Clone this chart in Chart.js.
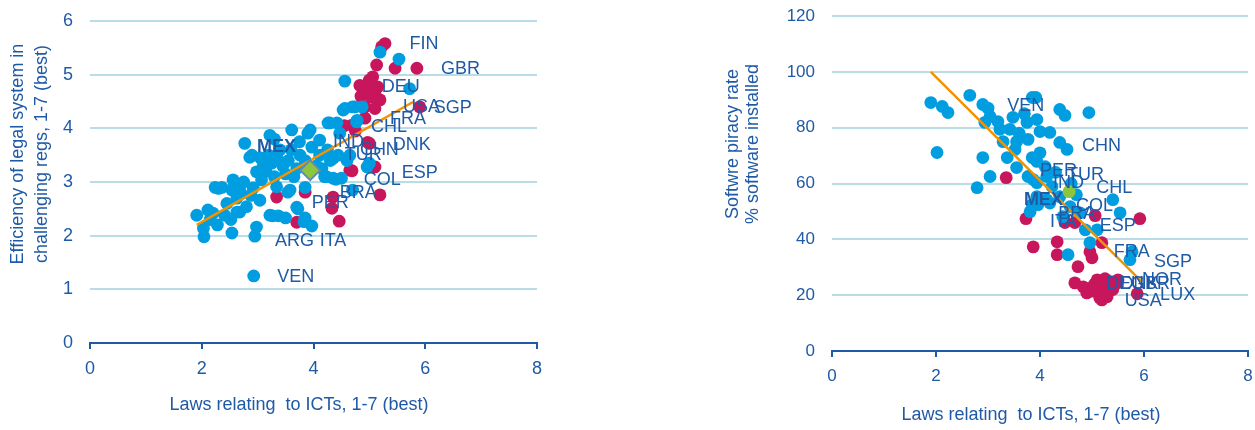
<!DOCTYPE html>
<html>
<head>
<meta charset="utf-8">
<script src="https://cdn.jsdelivr.net/npm/chart.js@4.4.0/dist/chart.umd.min.js"></script>
<style>
  body { margin: 0; background: #fff; }
  .panel { position: absolute; top: 0; height: 430px; }
  #legalPanel { left: 0; width: 560px; }
  #piracyPanel { left: 690px; width: 565px; }
</style>
</head>
<body>
<div class="panel" id="legalPanel"><canvas id="legalChart"></canvas></div>
<div class="panel" id="piracyPanel"><canvas id="piracyChart"></canvas></div>
<script>
// Laws relating to ICTs (x) vs efficiency of legal system (y)
const legalOther = [
    [1.91, 2.38], [2.03, 2.14], [2.04, 1.98], [2.11, 2.48], [2.2, 2.42], [2.28, 2.2], [2.41, 2.38],
    [2.54, 2.05], [2.63, 2.44], [2.24, 2.9], [2.36, 2.9], [2.3, 2.88], [2.56, 3.04], [2.54, 2.85],
    [2.77, 3.72], [2.9, 3.5], [2.98, 3.19], [3.07, 3.04], [3.22, 3.87], [3.25, 3.35], [3.34, 2.91],
    [2.92, 2.89], [3.04, 2.66], [2.8, 2.54], [2.63, 2.7], [2.68, 2.44], [2.98, 2.16], [2.95, 1.99],
    [2.93, 1.25], [3.22, 2.38], [3.27, 2.37], [3.37, 2.37], [3.5, 2.33], [3.58, 2.85], [3.61, 3.97],
    [3.76, 3.5], [3.85, 3.31], [3.9, 3.91], [3.97, 3.65], [3.85, 2.9], [3.7, 2.53], [3.72, 2.5],
    [3.83, 2.26], [3.85, 2.33], [3.97, 2.18], [4.11, 3.5], [4.2, 3.1], [4.35, 3.07], [4.5, 3.07],
    [4.29, 4.1], [4.42, 4.1], [4.53, 4.34], [4.78, 4.15], [4.35, 3.44], [4.44, 3.5], [4.7, 4.4],
    [4.87, 4.4], [4.6, 3.4], [5.19, 5.42], [5.53, 5.29], [4.56, 4.88], [5.72, 4.74], [4.56, 4.37],
    [4.74, 4.4], [4.26, 4.1], [4.77, 4.12], [3.94, 3.97], [4.11, 3.78], [4.47, 3.91], [4.65, 3.5],
    [5.0, 3.35], [4.96, 3.28], [4.23, 3.1], [4.4, 3.05], [3.85, 3.4], [4.7, 2.85], [3.1, 3.3],
    [3.2, 3.5], [3.35, 3.45], [3.45, 3.3], [3.55, 3.4], [3.6, 3.6], [3.5, 3.15], [3.3, 3.1],
    [3.05, 3.45], [2.86, 3.46], [3.65, 3.1], [3.7, 3.25], [3.4, 3.6], [3.15, 3.2], [3.75, 3.75],
    [3.3, 3.8], [2.7, 2.8], [2.88, 2.75], [2.75, 3.0], [4.05, 3.3], [4.15, 3.25], [4.25, 3.6],
    [4.3, 3.4], [2.45, 2.6], [2.58, 2.95], [2.15, 2.3], [2.52, 2.3], [3.54, 2.81]
];
const legalOecd = [
    [3.34, 2.72], [3.85, 2.81], [3.7, 2.25], [4.46, 2.27], [4.33, 2.51], [4.35, 2.72], [4.65, 3.22],
    [5.19, 2.76], [4.69, 3.21], [5.1, 3.28], [5.0, 3.72], [5.28, 5.58], [5.22, 5.52], [5.85, 5.12],
    [5.13, 5.18], [5.46, 5.12], [5.06, 4.96], [4.83, 4.8], [4.97, 4.74], [5.15, 4.77], [5.04, 4.58],
    [5.19, 4.53], [5.1, 4.37], [4.92, 4.4], [4.92, 4.19], [4.69, 4.06], [4.97, 3.74], [5.9, 4.4],
    [5.0, 4.9], [5.1, 4.65], [4.85, 4.6], [4.55, 4.05], [4.75, 3.95]
];
const legalMexAvg = [[3.94, 3.22]];
const legalTrend = [[1.91, 2.2], [5.78, 4.49]];
const legalLabels = [
    ['FIN', 5.72, 5.57], ['GBR', 6.28, 5.1], ['DEU', 5.22, 4.77], ['USA', 5.6, 4.39],
    ['SGP', 6.15, 4.38], ['FRA', 5.37, 4.17], ['CHL', 5.03, 4.02], ['IND', 4.35, 3.74],
    ['DNK', 5.42, 3.69], ['CHN', 4.83, 3.59], ['TUR', 4.56, 3.5], ['MEX', 2.99, 3.65],
    ['COL', 4.9, 3.04], ['ESP', 5.58, 3.17], ['BRA', 4.47, 2.79], ['PER', 3.97, 2.61],
    ['ARG', 3.31, 1.9], ['ITA', 4.11, 1.9], ['VEN', 3.35, 1.23]
];

// Laws relating to ICTs (x) vs software piracy rate (y)
const piracyOther = [
    [1.9, 89], [2.12, 87.6], [2.23, 85.4], [2.65, 91.6], [2.02, 71.1], [2.9, 88.3], [3.0, 87],
    [2.94, 81.9], [3.04, 84], [3.19, 82.2], [3.23, 79.4], [3.42, 79.4], [3.48, 83.7], [3.29, 75],
    [3.55, 75], [3.52, 72.2], [2.9, 69.3], [3.37, 69.3], [3.55, 65.7], [3.04, 62.5], [2.79, 58.5],
    [3.85, 90.8], [3.92, 90.8], [3.75, 81.9], [3.94, 82.9], [3.77, 75.8], [4.0, 78.6], [4.19, 78.3],
    [4.38, 86.5], [4.48, 84.4], [4.94, 85.4], [4.38, 74.7], [4.52, 72.2], [3.85, 69.3], [3.94, 67.9],
    [3.77, 62.5], [3.87, 61.4], [3.94, 60.3], [4.13, 62.5], [4.23, 58.9], [3.94, 55.3], [3.85, 52.4],
    [4.13, 54.2], [5.4, 54.2], [5.54, 49.5], [3.81, 49.9], [3.96, 52.4], [4.19, 53], [4.38, 55.3],
    [4.58, 51.7], [4.77, 49.5], [4.44, 48.1], [4.87, 43.4], [5.1, 43.4], [4.96, 38.8], [4.54, 34.5],
    [5.73, 32.7], [5.77, 35.5], [3.6, 78], [3.7, 85], [4.1, 66], [4.3, 64], [4.6, 60], [4.7, 56], [4.0, 71]
];
const piracyOecd = [
    [3.73, 47.4], [3.87, 37.3], [4.33, 39.1], [4.33, 34.5], [4.73, 30.2], [4.96, 35.5], [5.0, 33.4],
    [5.19, 38.8], [5.92, 47.4], [4.48, 46], [4.67, 46], [5.06, 48.5], [4.67, 24.4], [4.83, 23],
    [4.9, 20.8], [5.1, 25.5], [5.12, 20.8], [5.21, 23], [5.15, 19], [5.29, 19.4], [5.35, 24.8],
    [5.48, 24.4], [5.5, 25.5], [5.25, 25.9], [5.87, 20.5], [5.19, 18.3], [3.35, 62.1], [5.0, 21.5],
    [5.05, 24], [4.95, 22.3], [5.4, 22]
];
const piracyMexAvg = [[4.56, 57.1]];
const piracyTrend = [[1.9, 100], [5.96, 24.8]];
const piracyLabels = [
    ['VEN', 3.37, 87.6], ['CHN', 4.81, 73.6], ['PER', 4.0, 64.6], ['TUR', 4.52, 63.2],
    ['IND', 4.25, 60.3], ['CHL', 5.08, 58.5], ['MEX', 3.69, 53.9], ['COL', 4.69, 52.1],
    ['BRA', 4.35, 49.2], ['ITA', 4.19, 46.3], ['ESP', 5.15, 44.9], ['FRA', 5.42, 35.5],
    ['SGP', 6.19, 32], ['NOR', 5.96, 25.5], ['DEU', 5.27, 24], ['DNK', 5.55, 24],
    ['GBR', 5.75, 24], ['LUX', 6.31, 20.1], ['USA', 5.63, 18]
];
const boldCodes = ['MEX'];

const xTicks = [0, 2, 4, 6, 8];

const textBlue = '#1f5aa6';
const gridBlue = '#b9dde7';
const cyan = '#009ee0';
const magenta = '#c8165c';
const orange = '#f39200';
const green = '#8cc63f';
const fontFamily = '"Liberation Sans", Arial, sans-serif';

const toPoints = arr => arr.map(([x, y]) => ({ x, y }));

function countryLabels(labels) {
    return {
        id: 'countryLabels',
        afterDatasetsDraw(chart) {
            const { ctx, scales: { x, y } } = chart;
            ctx.save();
            ctx.fillStyle = textBlue;
            ctx.textAlign = 'left';
            ctx.textBaseline = 'middle';
            labels.forEach(([code, vx, vy]) => {
                ctx.font = (boldCodes.includes(code) ? 'bold ' : '') + '18px ' + fontFamily;
                ctx.fillText(code, x.getPixelForValue(vx), y.getPixelForValue(vy));
            });
            ctx.restore();
        }
    };
}

function axisTitles(t) {
    return {
        id: 'axisTitles',
        afterDraw(chart) {
            const ctx = chart.ctx;
            ctx.save();
            ctx.fillStyle = textBlue;
            ctx.font = '18px ' + fontFamily;
            ctx.textAlign = 'center';
            ctx.textBaseline = 'middle';
            ctx.fillText(t.xText, t.xAt[0], t.xAt[1]);
            ctx.translate(t.yAt[0], t.yAt[1]);
            ctx.rotate(-Math.PI / 2);
            t.yText.forEach((line, i) => ctx.fillText(line, 0, i * t.yGap));
            ctx.restore();
        }
    };
}

function makeChart(id, o) {
    new Chart(document.getElementById(id), {
        type: 'scatter',
        data: {
            datasets: [
                {
                    data: toPoints(o.mex),
                    pointStyle: o.mexStyle,
                    pointRadius: o.mexRadius,
                    backgroundColor: green,
                    borderColor: o.mexBorder,
                    borderWidth: o.mexBorder ? 2 : 0
                },
                {
                    data: toPoints(o.trend),
                    showLine: true,
                    pointRadius: 0,
                    borderColor: orange,
                    borderWidth: 2.5
                },
                {
                    data: toPoints(o.other),
                    pointRadius: 6.4,
                    backgroundColor: cyan,
                    borderWidth: 0
                },
                {
                    data: toPoints(o.oecd),
                    pointRadius: 6.4,
                    backgroundColor: magenta,
                    borderWidth: 0
                }
            ]
        },
        options: {
            responsive: true,
            maintainAspectRatio: false,
            animation: false,
            events: [],
            layout: { padding: o.padding },
            plugins: { legend: { display: false }, tooltip: { enabled: false } },
            scales: {
                x: {
                    min: 0, max: 8,
                    afterBuildTicks: s => { s.ticks = xTicks.map(v => ({ value: v })); },
                    afterFit: s => { s.height = o.xHeight; s.paddingLeft = 0; s.paddingRight = 0; },
                    grid: { drawOnChartArea: false, drawTicks: true, tickLength: 6, color: textBlue, lineWidth: 2 },
                    border: { color: textBlue, width: 2 },
                    ticks: { color: textBlue, padding: 9, font: { size: o.tickSize, family: fontFamily } }
                },
                y: {
                    min: 0, max: o.yMax,
                    ticks: { stepSize: o.yStep, color: textBlue, padding: 17, font: { size: o.tickSize, family: fontFamily } },
                    // fixed axis width; keep the label overhang from pushing the plot down
                    afterFit: s => { s.width = o.yWidth; s.paddingTop = 8; s.paddingBottom = 8; },
                    grid: { color: gridBlue, lineWidth: 2, drawTicks: false },
                    border: { display: false }
                }
            }
        },
        plugins: [countryLabels(o.labels), axisTitles(o.titles)]
    });
}

makeChart('legalChart', {
    other: legalOther, oecd: legalOecd, mex: legalMexAvg, trend: legalTrend, labels: legalLabels,
    mexStyle: 'rectRot', mexRadius: 10, mexBorder: '#5f8cb6',
    yMax: 6, yStep: 1, yWidth: 90, xHeight: 87, tickSize: 18,
    padding: { top: 21, right: 23, left: 0, bottom: 0 },
    titles: {
        xText: 'Laws relating  to ICTs, 1-7 (best)', xAt: [299, 405],
        yText: ['Efficiency of legal system in', 'challenging regs, 1-7 (best)'], yAt: [18, 154], yGap: 24
    }
});

makeChart('piracyChart', {
    other: piracyOther, oecd: piracyOecd, mex: piracyMexAvg, trend: piracyTrend, labels: piracyLabels,
    mexStyle: 'circle', mexRadius: 6.5, mexBorder: null,
    yMax: 120, yStep: 20, yWidth: 142, xHeight: 79, tickSize: 17,
    padding: { top: 16, right: 7, left: 0, bottom: 0 },
    titles: {
        xText: 'Laws relating  to ICTs, 1-7 (best)', xAt: [341, 415],
        yText: ['Softwre piracy rate', '% software installed'], yAt: [43, 144], yGap: 20
    }
});
</script>
</body>
</html>
